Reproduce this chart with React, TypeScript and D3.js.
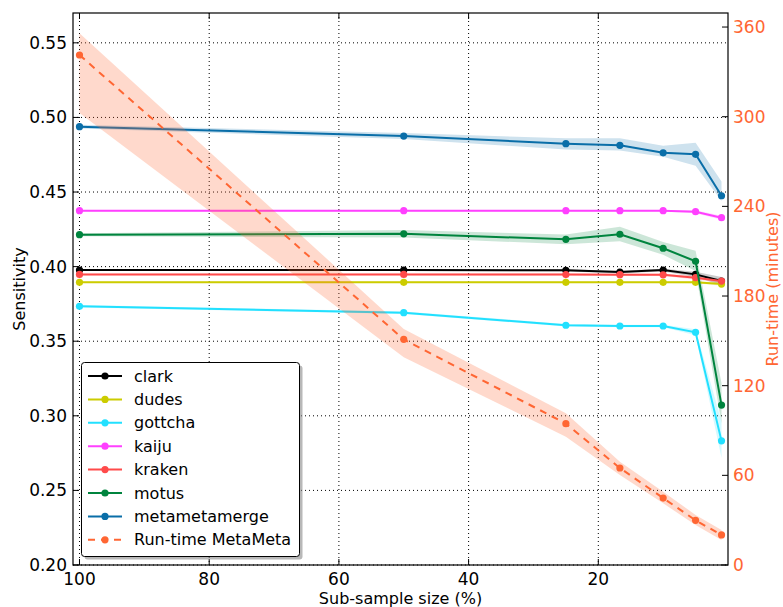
import React from "react";
import * as d3 from "d3";

const subSample = [100, 50, 25, 16.67, 10, 5, 1];

const clark = [0.3977, 0.3977, 0.3975, 0.3964, 0.3977, 0.3948, 0.3903];
const clarkLo = [0.3970, 0.3970, 0.3968, 0.3956, 0.3968, 0.3930, 0.3875];
const clarkHi = [0.3984, 0.3984, 0.3982, 0.3972, 0.3986, 0.3966, 0.3930];

const dudes = [0.3895, 0.3895, 0.3895, 0.3895, 0.3895, 0.3895, 0.3883];
const dudesLo = [0.3890, 0.3890, 0.3890, 0.3890, 0.3890, 0.3888, 0.3872];
const dudesHi = [0.3900, 0.3900, 0.3900, 0.3900, 0.3900, 0.3902, 0.3894];

const gottcha = [0.3734, 0.3691, 0.3607, 0.3602, 0.3602, 0.3560, 0.2832];
const gottchaLo = [0.3726, 0.3682, 0.3598, 0.3594, 0.3594, 0.3540, 0.2717];
const gottchaHi = [0.3742, 0.3700, 0.3616, 0.3610, 0.3610, 0.3580, 0.2960];

const kaiju = [0.4375, 0.4375, 0.4375, 0.4375, 0.4375, 0.4368, 0.4328];
const kaijuLo = [0.4370, 0.4370, 0.4370, 0.4370, 0.4370, 0.4358, 0.4315];
const kaijuHi = [0.4380, 0.4380, 0.4380, 0.4380, 0.4380, 0.4378, 0.4341];

const kraken = [0.3948, 0.3948, 0.3947, 0.3946, 0.3945, 0.3926, 0.3903];
const krakenLo = [0.3942, 0.3942, 0.3940, 0.3938, 0.3937, 0.3914, 0.3890];
const krakenHi = [0.3954, 0.3954, 0.3954, 0.3954, 0.3953, 0.3938, 0.3916];

const motus = [0.4214, 0.4220, 0.4183, 0.4217, 0.4123, 0.4036, 0.3072];
const motusLo = [0.4204, 0.4195, 0.4150, 0.4170, 0.4080, 0.3970, 0.2950];
const motusHi = [0.4224, 0.4245, 0.4215, 0.4267, 0.4165, 0.4107, 0.3220];

const metametamerge = [0.4938, 0.4875, 0.4824, 0.4813, 0.4763, 0.4753, 0.4475];
const metametamergeLo = [0.4925, 0.4855, 0.4785, 0.4778, 0.4737, 0.4676, 0.4440];
const metametamergeHi = [0.4951, 0.4895, 0.4860, 0.4860, 0.4810, 0.4830, 0.4570];

const runtime = [341.3, 151.0, 94.6, 64.9, 44.8, 29.9, 20.1];
const runtimeLo = [302.5, 139.0, 85.9, 60.2, 41.3, 26.8, 16.7];
const runtimeHi = [355.8, 158.0, 101.5, 69.1, 49.0, 33.5, 23.4];

const seriesNames = ["clark", "dudes", "gottcha", "kaiju", "kraken", "motus", "metametamerge"];
const seriesValues = [clark, dudes, gottcha, kaiju, kraken, motus, metametamerge];
const seriesLow = [clarkLo, dudesLo, gottchaLo, kaijuLo, krakenLo, motusLo, metametamergeLo];
const seriesHigh = [clarkHi, dudesHi, gottchaHi, kaijuHi, krakenHi, motusHi, metametamergeHi];
const seriesColors = ["#000000", "#cccc00", "#22e0ff", "#ff40ff", "#ff4a4a", "#00843e", "#0a6ea8"];
const runtimeName = "Run-time MetaMeta";
const runtimeColor = "#ff6633";

const xTicks = [100, 80, 60, 40, 20];
const yTicks = [0.2, 0.25, 0.3, 0.35, 0.4, 0.45, 0.5, 0.55];
const y2Ticks = [0, 60, 120, 180, 240, 300, 360];

const W = 783, H = 607;
const L = 73, R = 728, T = 13, B = 565;
const FONT = "DejaVu Sans, sans-serif";
const TICK_FS = 17;

export default function App() {
  const x = d3.scaleLinear().domain([101, 0]).range([L, R]);
  const y = d3.scaleLinear().domain([0.2, 0.57]).range([B, T]);
  const y2 = d3.scaleLinear().domain([0, 369.4]).range([B, T]);

  const line = (vals: number[], ys: d3.ScaleLinear<number, number>) =>
    d3.line<number>().x((_, i) => x(subSample[i])).y((d) => ys(d))(vals) || "";
  const area = (lo: number[], hi: number[], ys: d3.ScaleLinear<number, number>) =>
    d3
      .area<number>()
      .x((_, i) => x(subSample[i]))
      .y0((_, i) => ys(lo[i]))
      .y1((_, i) => ys(hi[i]))(lo) || "";

  const legendX = 81.5, legendY = 362.5, legendW = 218, legendH = 194;
  const rowY = (i: number) => 376 + i * 23.4;
  const legendItems = [
    ...seriesNames.map((n, i) => ({ name: n, color: seriesColors[i], dashed: false })),
    { name: runtimeName, color: runtimeColor, dashed: true },
  ];

  return (
    <div style={{ position: "fixed", left: 0, top: 0 }}>
      <svg width={W} height={H} style={{ display: "block", background: "#fff" }} fontFamily={FONT}>
        <defs>
          <clipPath id="plot">
            <rect x={L} y={T} width={R - L} height={B - T} />
          </clipPath>
        </defs>
        {/* grid */}
        {xTicks.map((t) => (
          <line key={"gx" + t} x1={x(t)} x2={x(t)} y1={T} y2={B} stroke="#000" strokeWidth={1} strokeDasharray="1,3" />
        ))}
        {yTicks.map((t) => (
          <line key={"gy" + t} x1={L} x2={R} y1={y(t)} y2={y(t)} stroke="#000" strokeWidth={1} strokeDasharray="1,3" />
        ))}
        <g clipPath="url(#plot)">
          {seriesNames.map((n, i) => (
            <path key={"a" + n} d={area(seriesLow[i], seriesHigh[i], y)} fill={seriesColors[i]} fillOpacity={0.2} stroke="none" />
          ))}
          {seriesNames.map((n, i) => (
            <g key={"l" + n}>
              <path d={line(seriesValues[i], y)} fill="none" stroke={seriesColors[i]} strokeWidth={2} />
              {seriesValues[i].map((v, j) => (
                <circle key={j} cx={x(subSample[j])} cy={y(v)} r={3.6} fill={seriesColors[i]} />
              ))}
            </g>
          ))}
          <path d={area(runtimeLo, runtimeHi, y2)} fill={runtimeColor} fillOpacity={0.25} stroke="none" />
          <path d={line(runtime, y2)} fill="none" stroke={runtimeColor} strokeWidth={2} strokeDasharray="7,6" />
          {runtime.map((v, j) => (
            <circle key={"r" + j} cx={x(subSample[j])} cy={y2(v)} r={3.6} fill={runtimeColor} />
          ))}
        </g>
        {/* spines */}
        <rect x={L} y={T} width={R - L} height={B - T} fill="none" stroke="#000" strokeWidth={1.2} />
        {/* x ticks */}
        {xTicks.map((t) => (
          <g key={"xt" + t}>
            <line x1={x(t)} x2={x(t)} y1={B} y2={B - 6} stroke="#000" />
            <line x1={x(t)} x2={x(t)} y1={T} y2={T + 6} stroke="#000" />
            <text x={x(t)} y={B + 20} fontSize={TICK_FS} textAnchor="middle" fill="#000">
              {t}
            </text>
          </g>
        ))}
        {/* left y ticks */}
        {yTicks.map((t) => (
          <g key={"yt" + t}>
            <line x1={L} x2={L + 6} y1={y(t)} y2={y(t)} stroke="#000" />
            <text x={L - 6} y={y(t)} dy="0.35em" fontSize={TICK_FS} textAnchor="end" fill="#000">
              {t.toFixed(2)}
            </text>
          </g>
        ))}
        {/* right y ticks */}
        {y2Ticks.map((t) => (
          <g key={"y2t" + t}>
            <line x1={R} x2={R - 6} y1={y2(t)} y2={y2(t)} stroke="#000" />
            <text x={R + 5} y={y2(t)} dy="0.35em" fontSize={TICK_FS} textAnchor="start" fill={runtimeColor}>
              {t}
            </text>
          </g>
        ))}
        {/* axis labels */}
        <text x={(L + R) / 2} y={604} fontSize={16} textAnchor="middle" fill="#000">
          Sub-sample size (%)
        </text>
        <text transform={`translate(25,${(T + B) / 2}) rotate(-90)`} fontSize={16} textAnchor="middle" fill="#000">
          Sensitivity
        </text>
        <text transform={`translate(778,${(T + B) / 2}) rotate(-90)`} fontSize={16} textAnchor="middle" fill={runtimeColor}>
          Run-time (minutes)
        </text>
        {/* legend */}
        <rect x={legendX + 3} y={legendY + 3} width={legendW} height={legendH} rx={3} fill="#888" opacity={0.6} />
        <rect x={legendX} y={legendY} width={legendW} height={legendH} rx={3} fill="#fff" stroke="#000" strokeWidth={1} />
        {legendItems.map((it, i) => (
          <g key={"lg" + it.name}>
            <line
              x1={88}
              x2={122}
              y1={rowY(i)}
              y2={rowY(i)}
              stroke={it.color}
              strokeWidth={2}
              strokeDasharray={it.dashed ? "7,6" : undefined}
            />
            <circle cx={105} cy={rowY(i)} r={3.6} fill={it.color} />
            <text x={134} y={rowY(i)} dy="0.35em" fontSize={16} fill="#000">
              {it.name}
            </text>
          </g>
        ))}
      </svg>
    </div>
  );
}
